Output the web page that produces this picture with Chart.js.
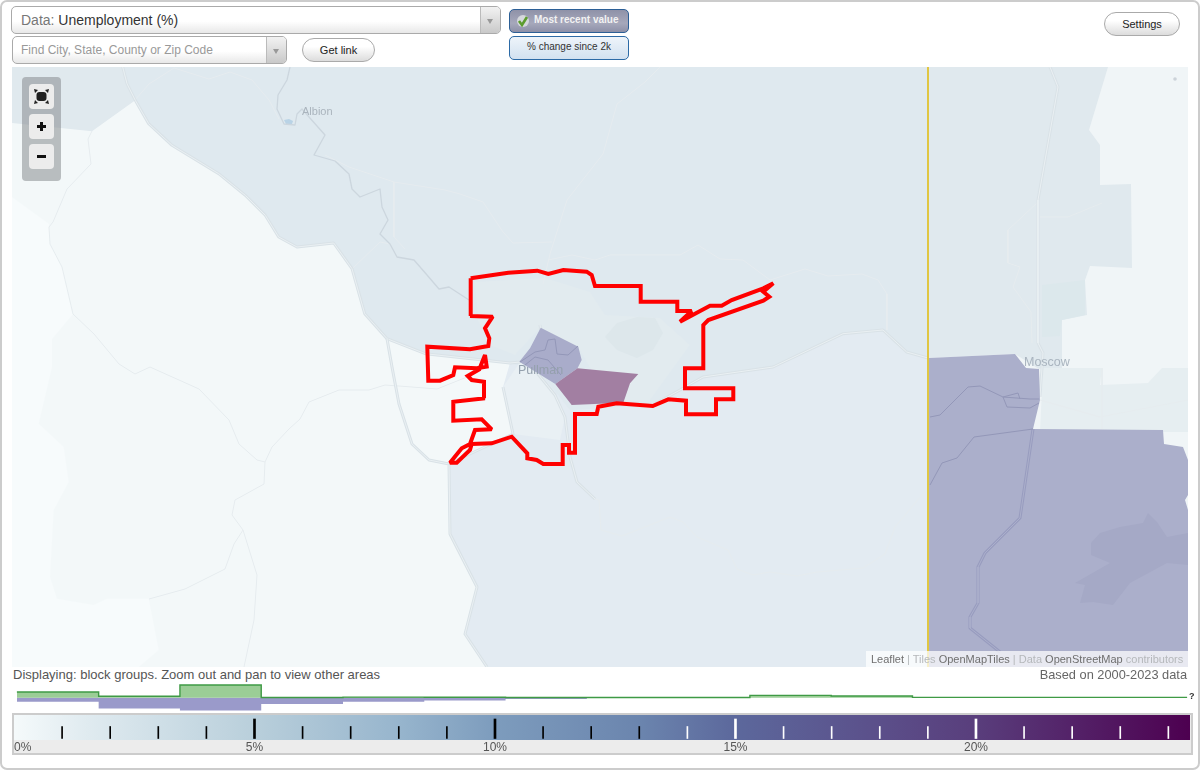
<!DOCTYPE html>
<html>
<head>
<meta charset="utf-8">
<title>Unemployment (%)</title>
<script src="https://cdn.jsdelivr.net/npm/chart.js@4"></script>
<style>
html, body { margin: 0; padding: 0; background: #fff; }
body { width: 1200px; height: 771px; position: relative; overflow: hidden; font-family: "Liberation Sans", Arial, sans-serif; }
.abs { position: absolute; box-sizing: border-box; white-space: nowrap; }
canvas { position: absolute; }
#frame { left: 0; top: 0; width: 1200px; height: 770px; border: 2px solid #ccc; border-radius: 7px; }
.combo { border: 1px solid #aaa; border-radius: 5px; background: linear-gradient(#fff 55%, #e8e8e8); }
.arrow { position: absolute; right: 0; top: 0; bottom: 0; width: 19px; border-left: 1px solid #bbb; border-radius: 0 4px 4px 0; background: linear-gradient(#f2f2f2, #c9c9c9); }
.arrow:after { content: ""; position: absolute; left: 6px; top: 12px; border: 3.5px solid transparent; border-top: 5px solid #999; }
.pill { border: 1px solid #aaa; border-radius: 12px; background: linear-gradient(#fff 35%, #dcdcdc); color: #222; font-size: 11px; text-align: center; }
.mapbtn { left: 29px; width: 25px; height: 25px; background: #ececec; border-radius: 4px; }
.place { color: #aab4bd; }
</style>
</head>
<body>
<div id="frame" class="abs"></div>

<div class="abs combo" style="left:11px;top:6px;width:490px;height:28px;font-size:14px;line-height:27px;padding-left:9px;color:#777">Data: <span style="color:#333">Unemployment (%)</span><div class="arrow"></div></div>
<div class="abs combo" style="left:12px;top:36px;width:275px;height:28px;font-size:12px;line-height:27px;padding-left:8px;color:#999">Find City, State, County or Zip Code<div class="arrow"></div></div>
<div class="abs pill" style="left:302px;top:38px;width:73px;height:24px;line-height:23px">Get link</div>
<div class="abs" style="left:509px;top:9px;width:120px;height:24px;border:1.5px solid #2c5f96;border-radius:5px;background:linear-gradient(#8f92a8,#a6a8bb 60%,#8d90a8);color:#f2f2f2;font-size:10px;font-weight:bold;line-height:20px;padding-left:24px">Most recent value
  <svg style="position:absolute;left:6px;top:4px" width="14" height="14" viewBox="0 0 14 14"><circle cx="7" cy="7" r="6" fill="#d5d8dc"/><path d="M3 7l3 4 5-8" fill="none" stroke="#5c9c2e" stroke-width="2.6"/></svg>
</div>
<div class="abs" style="left:509px;top:36px;width:120px;height:24px;border:1.5px solid #2c6aa6;border-radius:5px;background:linear-gradient(#eef4fa,#d2e1f0);color:#333;font-size:10px;text-align:center;line-height:20px">% change since 2k</div>
<div class="abs pill" style="left:1104px;top:12px;width:76px;height:24px;line-height:23px">Settings</div>

<canvas id="mapChart" width="1176" height="600" style="left:12px;top:67px;background:#f3f8f9"></canvas>

<div class="abs place" style="left:302px;top:105px;font-size:11px">Albion</div>
<div class="abs place" style="left:1024px;top:355px;font-size:12.5px;color:#a9b4bf">Moscow</div>
<div class="abs place" style="left:518px;top:363px;font-size:12.5px;color:#94a0ad">Pullman</div>

<div class="abs" style="left:22px;top:77px;width:39px;height:104px;border-radius:4px;background:rgba(125,130,133,.5)"></div>
<div class="abs mapbtn" style="top:84px"><svg width="25" height="25" viewBox="0 0 25 25"><rect x="7.5" y="8" width="10" height="9" rx="3" fill="#222"/><path d="M5 5l4 1-3 3zM20 5l-4 1 3 3zM5 20l4-1-3-3zM20 20l-4-1 3-3z" fill="#222"/></svg></div>
<div class="abs mapbtn" style="top:114px"><svg width="25" height="25" viewBox="0 0 25 25"><path d="M8 12.5h9M12.5 8v9" stroke="#111" stroke-width="3"/></svg></div>
<div class="abs mapbtn" style="top:144px"><svg width="25" height="25" viewBox="0 0 25 25"><path d="M8 12.5h9" stroke="#111" stroke-width="3"/></svg></div>

<div class="abs" style="left:866px;top:651px;width:322px;height:16px;background:rgba(255,255,255,.72);font-size:11px;line-height:16px;padding-left:5px;color:#b5b8bb"><span style="color:#6f6f6f">Leaflet</span> | Tiles <span style="color:#6f6f6f">OpenMapTiles</span> | Data <span style="color:#6f6f6f">OpenStreetMap</span> contributors</div>

<div class="abs" style="left:13px;top:667px;font-size:13px;color:#555">Displaying: block groups. Zoom out and pan to view other areas</div>
<div class="abs" style="right:13px;top:667px;font-size:12.8px;color:#666">Based on 2000-2023 data</div>

<canvas id="histChart" width="1176" height="28" style="left:14px;top:684px"></canvas>
<div class="abs" style="left:1189px;top:691px;font-size:9px;font-weight:bold;color:#333">?</div>

<div class="abs" style="left:12px;top:713px;width:1181px;height:42px;border:2.5px solid #ccc;background:#ececec"></div>
<canvas id="legendChart" width="1176" height="37" style="left:14px;top:715px"></canvas>
<div class="abs" style="left:14px;top:740px;font-size:12px;color:#555">0%</div>

<script>
// histogram over the colour scale, x is unemployment %
const binEdges = [0.06, 1.76, 3.45, 5.14, 6.84, 8.53, 10.22, 11.91, 13.61, 15.30, 16.99, 18.68, 20.37, 22.07, 23.76, 24.39];
const cityShare = [5.7, 1.4, 12.7, 0.2, 0.6, 0.4, 0.2, 0.2, 0.2, 2.3, 1.7, 0.3, 0.3, 0.3, 0.3, 0.3];
const areaShare = [-4, -10.7, -12.7, -6.3, -4, -2.7, -1.3, 0, 0, 0, 0, 0, 0, 0, 0, 0];

// legend
const scaleMax = 24.45;
const majorTicks = [5, 10, 15, 20];
const minorTicks = [1, 2, 3, 4, 6, 7, 8, 9, 11, 12, 13, 14, 16, 17, 18, 19, 21, 22, 23, 24];
const scaleStops = [0, 1.5, 5, 8, 10, 13, 15, 18, 20, 24.45];
const scaleColors = ['#f5fafb', '#e0ebf0', '#b9cfdb', '#97b5cd', '#7d9cbd', '#6b85ae', '#5c689c', '#5b4f8a', '#593e7c', '#4d0050'];

// map geometry in screen pixels
const westWedge = [[12,67],[122.7,67],[135.3,100.3],[92,131.3],[12,123]];
const farWest = [[12,197],[49,224],[50,244],[62,267],[73,314],[52,339],[52,367],[38.7,423.7],[63.7,447],[68.7,482],[53.7,510],[50,577],[57,598.7],[93.7,605],[107,598.7],[148.7,598.7],[158.7,650],[138.7,667],[12,667]];
const southValley = [[425,354],[510,363],[503,387],[513,434],[448,464],[450,534],[477,587],[465,634],[487,667],[928,667],[928,280],[600,280]];
const northPlain = [[122.7,67],[127,83.7],[135.3,100.3],[148.7,123.7],[172,145.3],[218.7,173.7],[245.3,195.3],[265.3,215.3],[278.7,237],[297,247],[333.7,243],[352,268.7],[364.7,313.7],[387,338.7],[425.3,353.7],[510,363],[540,372],[570,410],[653,405],[680,390],[703,377],[773,367],[843,333.7],[883,330],[906.7,352],[928,358],[928,67]];
const townCore = [[475,282],[545,278],[590,292],[605,315],[660,318],[690,345],[650,400],[610,403],[580,350],[540,328],[515,355],[490,345],[478,320]];
const campus = [[605,337],[617,323],[637,317],[655,318],[663,333],[653,350],[637,358],[617,350]];
const townSouth = [[503,387],[513,434],[560,440],[565,417],[555,395],[538,374],[520,362]];
const eastPanel = [[928,67],[1188,67],[1188,667],[928,667]];
const eastPlain = [[928,67],[1108,67],[1089,130],[1100,145],[1100,185],[1131,184],[1132,268],[1090,266],[1085,280],[1087,315],[1062,320],[1062,368],[1043,368],[1039,369],[1015,354],[928,358]];
const moscowBlock = [[1043,368],[1102,368],[1100,385],[1148,383],[1162,368],[1188,368],[1188,432],[1040,432]];
const moscowCore = [[1042,285],[1085,280],[1085,315],[1062,320],[1060,336],[1042,337]];
const latahTract = [[929,358],[1015,354],[1026,368],[1039,369],[1040,400],[1033,429],[1163,430],[1164,444],[1183,447],[1188,460],[1188,495],[1185,500],[1188,510],[1188,667],[929,667]];
const latahPatch = [[1091,543],[1100,533],[1120,527],[1143,523],[1148,513],[1157,522],[1167,537],[1188,533],[1188,565],[1167,563],[1130,583],[1113,605],[1093,602],[1080,603],[1085,585],[1075,583],[1110,563],[1091,555]];
const pullmanNorth = [[540.7,327.7],[578.3,346.7],[581.7,360],[577.5,368.3],[555.3,384],[519.3,361.7],[530,348.3]];
const pullmanEast = [[577.5,368.3],[638.3,374],[630,383.3],[623.3,402.7],[571.7,405],[555.3,384]];
const lake = [[284,120],[289,119],[293,121],[292,124],[286,124]];

const cityOutline = [[470.7,278.3],[508.3,272.7],[537.3,270.7],[548.3,274],[563.3,270],[586.7,271.7],[591.7,275],[595,286],[640.7,286],[640.7,301.7],[677.3,301.7],[677.3,311],[691.7,311],[680,321.7],[710,305.7],[721.7,305.7],[731.7,300],[763.3,288.3],[773.3,283.3],[763.3,291.7],[769.3,296.7],[763.3,300.7],[708.3,320],[703.3,325],[703.3,368.3],[685,368.3],[685,388.3],[733.3,388.3],[733.3,399.3],[716,399.3],[716,414.3],[686,414.3],[686,400.7],[668.3,399.3],[652.7,406],[616.7,403.3],[598.3,406.7],[596.7,414],[575,414],[575,452.7],[569,452.7],[569,445],[562.7,445],[562.7,464],[543.3,464],[536.7,460],[527.3,458.3],[527.3,453.3],[511.7,436.7],[491.7,443.3],[471.7,444],[470,450],[456.7,462.7],[450,462.7],[461.7,448.3],[470,444],[475,430],[491.7,429.3],[481.7,419.3],[453.3,420.7],[453.3,401.7],[485,398.3],[484,381.7],[471.7,380],[467.7,376],[479.3,369.3],[485,355],[486.7,366.7],[476.7,368.3],[455,367.3],[453.3,375],[440,380.7],[428.3,380.7],[427.3,346.7],[470,349.3],[488.3,346],[489.3,338.3],[485,328.3],[492.7,316.7],[470,316],[470.7,278.3]];
const stateLine = [[928,67],[928,667]];

const river = [[290,67],[287,80],[278,95],[277,109],[284,124],[295,125],[297,114],[302,109],[309,117],[325,135],[314,155],[335,161],[349,174],[352,189],[360,197],[380,189],[382,207],[388,220],[380,234],[390,244],[397,257],[414,260],[427,275],[439,289],[449,287],[469,300]];

const roads = [
  [[122.7,67],[127,83.7],[135.3,100.3],[148.7,123.7],[172,145.3],[218.7,173.7],[245.3,195.3],[265.3,215.3],[278.7,237],[297,247],[333.7,243],[352,268.7],[364.7,313.7],[387,338.7],[425.3,353.7],[510,363],[520,362]],
  [[387,338.7],[392,367],[399,404],[412,444],[429,460],[449,464],[450,534],[477,587],[465,634],[487,667]],
  [[503,387],[513,434],[448,464]],
  [[653,405],[680,390],[703,377],[773,367],[843,333.7],[883,330],[906.7,352],[928,358]],
  [[1050,67],[1058,87],[1038,200],[1038,343],[1043,353],[1040,397]],
  [[540,325],[543,345],[538,374],[555,395],[565,417],[570,457],[577,482],[595,499]]
];
const latahRoad = [[1033,429],[1020,518],[985,553],[978,567],[978,603],[970,617],[970,628],[1000,652]];

const faintLines = [
  [[135,100],[149,84],[174,68],[209,79],[230,72],[252,80],[269,100],[279,119]],
  [[325,155],[349,167],[394,182],[445,190],[460,194],[483,202],[503,232],[513,243],[552,242]],
  [[660,67],[645,82],[617,104],[603,154],[567,200],[550,254],[543,284]],
  [[548,260],[572,255],[595,260],[610,255],[680,255],[698,245],[720,259],[743,260],[770,280],[805,269],[828,276],[862,274],[878,280],[887,294],[887,330]],
  [[394,182],[394,237],[405,249]],
  [[352,269],[380,242],[390,244]],
  [[92,131],[88,139],[91,164],[67,189],[53,222],[49,227],[50,244],[62,267],[73,314],[94,334],[119,364],[135,374],[150,367],[199,389],[229,420],[239,444],[257,460],[265,462],[264,484],[235,500],[232,515],[243,530],[257,575],[254,620],[244,667]],
  [[243,530],[234,544],[225,569],[185,589],[149,599]],
  [[265,462],[272,447],[289,429],[300,419],[309,402],[339,390],[369,390],[385,385],[412,387],[437,389],[472,375]],
  [[595,499],[599,500],[601,530],[622,536],[670,517],[683,522],[697,537],[728,550],[737,569],[753,575],[770,572],[797,576],[817,572],[863,568],[885,554],[895,527],[927,489]],
  [[1038,202],[1008,230],[1008,263],[1020,267],[1013,287],[1031,312],[1032,343]],
  [[1040,217],[1068,217],[1102,203]],
  [[1040,400],[1100,417],[1188,400]],
  [[1102,368],[1102,430]]
];
const tractLines = [
  [[930,485],[942,463],[957,458],[974,437],[1033,429]],
  [[930,417],[940,415],[968,387],[980,386],[1003,397],[1030,399],[1039,399]],
  [[1003,397],[1007,407],[1030,408],[1039,403]],
  [[1003,397],[1018,393],[1020,399]],
  [[520,362],[535,352],[545,350],[548,340],[555,339],[557,354],[568,355],[578,346]],
  [[525,365],[535,357],[548,360],[561,375]]
];
const mapDots = [[1175,79]];

function area(points, color) {
  return { data: points, showLine: true, pointRadius: 0, borderWidth: 0, backgroundColor: color, fill: 'shape' };
}
function stroke(points, color, width) {
  return { data: points, showLine: true, pointRadius: 0, borderColor: color, borderWidth: width, fill: false, borderJoinStyle: 'round' };
}

// bottom layer first, reversed below because Chart.js paints dataset 0 last
const layers = [
  area(eastPanel, '#f0f5f7'),
  area(farWest, '#f7fbfc'),
  area(westWedge, '#e0e9ee'),
  area(southValley, '#e3ebf2'),
  area(northPlain, '#dfe9ef'),
  area(townCore, '#e2ebef'),
  area(townSouth, '#e9f0f4'),
  area(campus, '#dde7eb'),
  area(eastPlain, '#e0e9ee'),
  area(moscowBlock, '#e6eef1'),
  area(moscowCore, '#dce8ec'),
  area(lake, '#b9d3e6')
];
faintLines.forEach(l => layers.push(stroke(l, '#e6ecef', 1)));
layers.push(stroke(river, '#ccd6de', 1.3));
roads.forEach(r => {
  layers.push(stroke(r, '#d9e2e7', 3));
  layers.push(stroke(r, '#eaf0f3', 1));
});
layers.push(area(latahTract, '#abafcb'));
layers.push(area(latahPatch, '#a5a9c6'));
layers.push(stroke(latahRoad, '#989cbf', 3));
layers.push(stroke(latahRoad, '#abafcb', 1));
layers.push(area(pullmanNorth, '#a9acca'));
layers.push(area(pullmanEast, '#a27fa2'));
tractLines.forEach(l => layers.push(stroke(l, '#9397b8', 1)));
layers.push(stroke(stateLine, '#e0c642', 2));
layers.push({ data: mapDots, pointRadius: 1.8, pointBackgroundColor: '#ccd3d9', pointBorderWidth: 0, showLine: false });
const outline = stroke(cityOutline, '#ff0000', 4);
outline.borderJoinStyle = 'miter';
layers.push(outline);

// keeps the sharp turns of the red outline from shooting out
const miterPlugin = {
  id: 'miter',
  beforeDraw(chart) { chart.ctx.miterLimit = 2; }
};

new Chart(document.getElementById('mapChart'), {
  type: 'scatter',
  data: { datasets: layers.slice().reverse() },
  plugins: [miterPlugin],
  options: {
    responsive: false,
    animation: false,
    layout: { padding: 0, autoPadding: false },
    plugins: { legend: { display: false }, tooltip: { enabled: false } },
    scales: {
      x: { type: 'linear', display: false, min: 12, max: 1188 },
      y: { type: 'linear', display: false, min: 67, max: 667, reverse: true }
    }
  }
});

// histogram
new Chart(document.getElementById('histChart'), {
  type: 'scatter',
  data: {
    datasets: [
      {
        data: binEdges.map((x, i) => ({ x: x, y: cityShare[i] })),
        showLine: true, stepped: true, pointRadius: 0,
        borderColor: '#3f9a45', borderWidth: 1.4,
        backgroundColor: '#9bcd96', fill: 'origin'
      },
      {
        data: binEdges.map((x, i) => ({ x: x, y: areaShare[i] })),
        showLine: true, stepped: true, pointRadius: 0,
        borderWidth: 0,
        backgroundColor: '#9a9aca', fill: 'origin'
      }
    ]
  },
  options: {
    responsive: false,
    animation: false,
    layout: { padding: 0, autoPadding: false },
    plugins: { legend: { display: false }, tooltip: { enabled: false } },
    scales: {
      x: { type: 'linear', display: false, min: 0, max: scaleMax },
      y: { type: 'linear', display: false, min: -14.3, max: 13.7 }
    }
  }
});

// colour ramp behind the legend ticks
const rampPlugin = {
  id: 'ramp',
  beforeDatasetsDraw(chart) {
    const { ctx, chartArea: a } = chart;
    const g = ctx.createLinearGradient(a.left, 0, a.right, 0);
    scaleStops.forEach((s, i) => g.addColorStop(s / scaleMax, scaleColors[i]));
    ctx.fillStyle = g;
    ctx.fillRect(a.left, a.top, a.right - a.left, a.bottom - a.top);
  }
};

new Chart(document.getElementById('legendChart'), {
  type: 'bar',
  data: {
    datasets: [
      {
        data: majorTicks.map(v => ({ x: v, y: [1.5, 21] })),
        barThickness: 2,
        backgroundColor: majorTicks.map(v => v < 14 ? '#000' : '#fff')
      },
      {
        data: minorTicks.map(v => ({ x: v, y: [1.5, 13.5] })),
        barThickness: 1,
        backgroundColor: minorTicks.map(v => v < 14 ? '#000' : '#fff')
      }
    ]
  },
  plugins: [rampPlugin],
  options: {
    responsive: false,
    animation: false,
    layout: { padding: 0, autoPadding: false },
    plugins: { legend: { display: false }, tooltip: { enabled: false } },
    datasets: { bar: { grouped: false } },
    scales: {
      x: {
        type: 'linear', min: 0, max: scaleMax, offset: false,
        grid: { display: false, drawTicks: false, tickLength: 0 }, border: { display: false },
        afterFit(s) { s.height = 12; },
        afterBuildTicks(s) { s.ticks = majorTicks.map(v => ({ value: v })); },
        ticks: {
          autoSkip: false, maxRotation: 0, padding: 0,
          color: '#555', font: { family: '"Liberation Sans"', size: 12 },
          callback: v => v + '%'
        }
      },
      y: { type: 'linear', display: false, min: 0, max: 25 }
    }
  }
});
</script>
</body>
</html>
